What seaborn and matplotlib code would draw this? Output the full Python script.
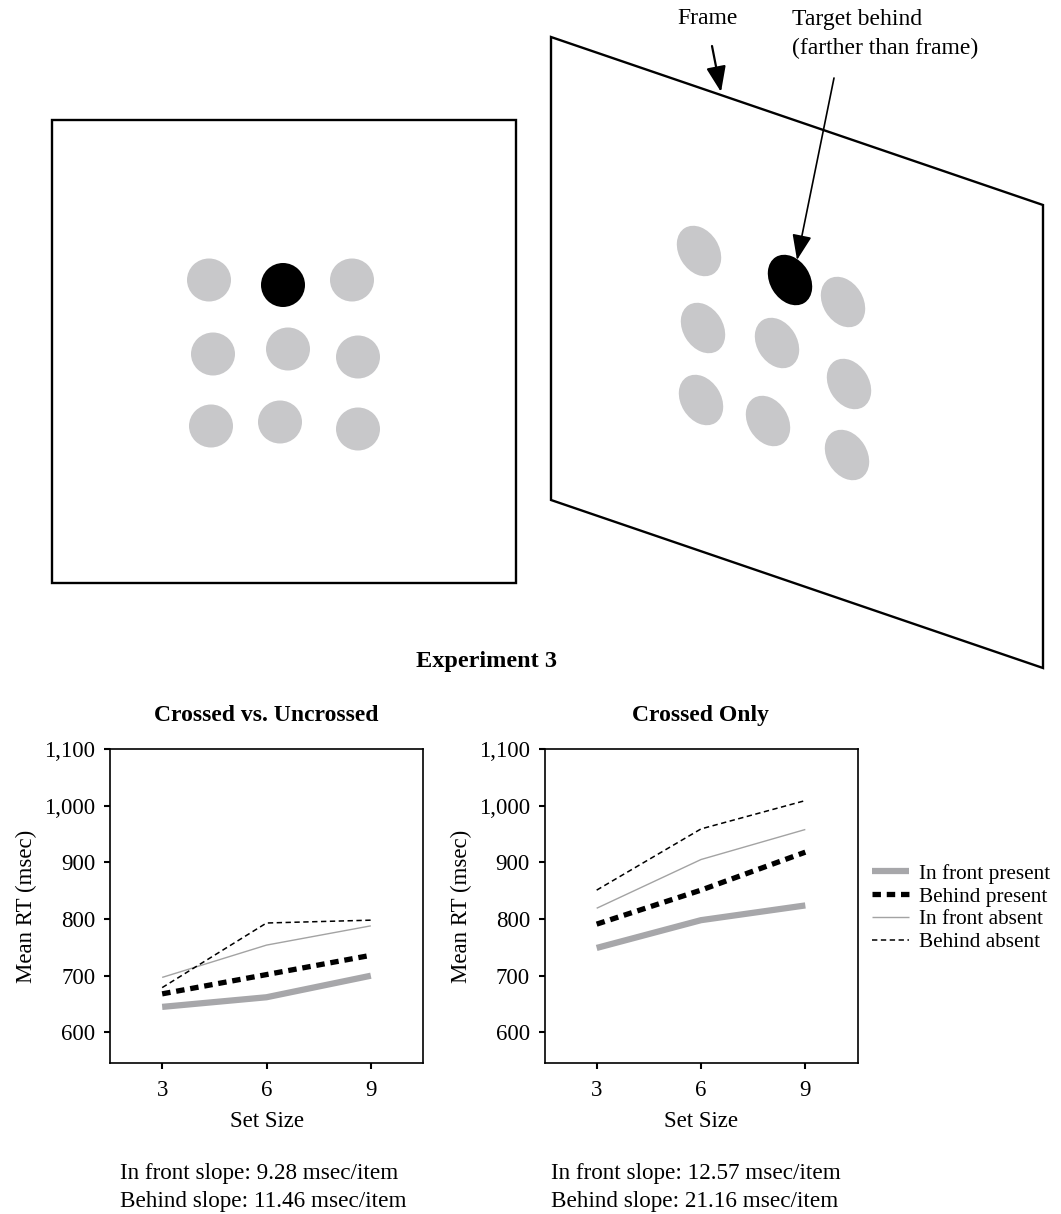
import numpy as np
import pandas as pd
import matplotlib
matplotlib.use("Agg")
import matplotlib.pyplot as plt
from matplotlib.patches import Ellipse, Polygon, Rectangle
from matplotlib.ticker import FuncFormatter
import seaborn as sns

# ---------------- data ----------------
set_sizes = [3, 6, 9]
series_names = ["In front present", "Behind present", "In front absent", "Behind absent"]

cvu_front_present = [645, 662, 700]
cvu_behind_present = [668, 702, 736]
cvu_front_absent = [697, 754, 788]
cvu_behind_absent = [679, 793, 798]

co_front_present = [749, 798, 824]
co_behind_present = [791, 851, 918]
co_front_absent = [819, 905, 958]
co_behind_absent = [851, 959, 1009]

panel_titles = ["Crossed vs. Uncrossed", "Crossed Only"]
slope_texts = [["In front slope: 9.28 msec/item", "Behind slope: 11.46 msec/item"],
               ["In front slope: 12.57 msec/item", "Behind slope: 21.16 msec/item"]]
y_ticks = [600, 700, 800, 900, 1000, 1100]

# illustration (decorative) elements, pixel coordinates
left_dots = [(209, 280), (352, 280), (213, 354), (288, 349), (358, 357),
             (211, 426), (280, 422), (358, 429)]
left_target = (283, 285)
right_dots = [(699, 251), (843, 302), (703, 328), (777, 343), (849, 384),
              (701, 400), (768, 421), (847, 455)]
right_target = (790, 280)

# ---------------- style ----------------
sns.set_theme(style="ticks")
plt.rcParams['font.family'] = ['Liberation Serif', 'DejaVu Serif']
plt.rcParams['axes.linewidth'] = 1.2
plt.rcParams['text.color'] = 'black'
plt.rcParams['axes.labelcolor'] = 'black'
plt.rcParams['xtick.color'] = 'black'
plt.rcParams['ytick.color'] = 'black'

W, H = 1061, 1214
fig = plt.figure(figsize=(W / 100, H / 100), dpi=100)

# ---------------- illustration ----------------
ill = fig.add_axes([0, 0, 1, 1])
ill.set_xlim(0, W)
ill.set_ylim(H, 0)
ill.axis("off")
ill.patch.set_visible(False)

gray_dot = "#c8c8ca"
ill.add_patch(Rectangle((52, 120), 464, 463, fill=False, lw=1.7, ec="black"))
for (cx, cy) in left_dots:
    ill.add_patch(Ellipse((cx, cy), 44, 43, fc=gray_dot, ec="none"))
ill.add_patch(Ellipse(left_target, 44, 44, fc="black", ec="none"))

ill.add_patch(Polygon([(551, 37), (1043, 205), (1043, 668), (551, 500)],
                      closed=True, fill=False, lw=1.7, ec="black"))
for (cx, cy) in right_dots:
    ill.add_patch(Ellipse((cx, cy), 54, 40, angle=58, fc=gray_dot, ec="none"))
ill.add_patch(Ellipse(right_target, 54, 40, angle=58, fc="black", ec="none"))

ill.text(708, 19, "Frame", ha="center", va="center", fontsize=17)
ill.text(792, 19, "Target behind", ha="left", va="center", fontsize=17)
ill.text(792, 48, "(farther than frame)", ha="left", va="center", fontsize=17)
ill.annotate("", xy=(721, 92), xytext=(712, 46),
             arrowprops=dict(arrowstyle="-|>,head_length=1.3,head_width=0.5",
                             lw=1.6, color="black", shrinkA=0, shrinkB=0))
ill.annotate("", xy=(797, 260), xytext=(834, 78),
             arrowprops=dict(arrowstyle="-|>,head_length=1.3,head_width=0.5",
                             lw=1.2, color="black", shrinkA=0, shrinkB=0))

fig.text(487 / W, 1 - 662 / H, "Experiment 3", ha="center", va="center",
         fontsize=17.5, fontweight="bold")

# ---------------- line plots ----------------
styles = {
    "In front present": dict(color="#a7a7aa", lw=4.5, dashes=None),
    "Behind present": dict(color="black", lw=3.8, dashes=(1.6, 1.1)),
    "In front absent": dict(color="#a3a3a3", lw=1.0, dashes=None),
    "Behind absent": dict(color="black", lw=1.1, dashes=(3.5, 2.3)),
}

panels = [
    [cvu_front_present, cvu_behind_present, cvu_front_absent, cvu_behind_absent],
    [co_front_present, co_behind_present, co_front_absent, co_behind_absent],
]
ax_lefts = [110 / W, 544.5 / W]
ax_w = 313 / W
ax_bottom = 1 - 1063 / H
ax_h = 314 / H

axes = []
for p, (vals, x0) in enumerate(zip(panels, ax_lefts)):
    ax = fig.add_axes([x0, ax_bottom, ax_w, ax_h])
    axes.append(ax)
    for name, v in zip(series_names, vals):
        df = pd.DataFrame({"Set Size": set_sizes, "RT": v})
        st = styles[name]
        sns.lineplot(data=df, x="Set Size", y="RT", ax=ax, color=st["color"],
                     linewidth=st["lw"], legend=False)
        ln = ax.lines[-1]
        ln.set_label(name)
        ln.set_solid_capstyle("butt")
        ln.set_solid_joinstyle("miter")
        if st["dashes"] is not None:
            ln.set_dashes(st["dashes"])
    ax.set_xlim(1.5, 10.5)
    ax.set_ylim(546, 1100)
    ax.set_xticks(set_sizes)
    ax.set_yticks(y_ticks)
    ax.yaxis.set_major_formatter(FuncFormatter(lambda v, _: f"{v:,.0f}"))
    ax.tick_params(axis="both", direction="out", length=4.5, width=1.5, labelsize=16.5)
    ax.tick_params(axis="x", pad=8)
    ax.tick_params(axis="y", pad=6)
    ax.set_xlabel("Set Size", fontsize=16.5, labelpad=7)
    ax.set_ylabel("Mean RT (msec)", fontsize=16.5, labelpad=5)
    ax.set_title(panel_titles[p], fontsize=17, fontweight="bold", pad=20)
    for s in ax.spines.values():
        s.set_visible(True)
        s.set_linewidth(1.2)
        s.set_color("black")
    ax.grid(False)
    ax.set_facecolor("white")
    tx = (120 if p == 0 else 551) / W
    fig.text(tx, 1 - 1174 / H, slope_texts[p][0], ha="left", va="center", fontsize=16.7)
    fig.text(tx, 1 - 1202 / H, slope_texts[p][1], ha="left", va="center", fontsize=16.7)

handles = axes[1].lines[:4]
fig.legend(handles, series_names, loc="center left",
           bbox_to_anchor=(872 / W, 1 - 908 / H), frameon=False,
           fontsize=15.3, handlelength=1.75, handletextpad=0.45,
           labelspacing=0.14, borderpad=0, borderaxespad=0)

fig.savefig("out.png", dpi=100)
